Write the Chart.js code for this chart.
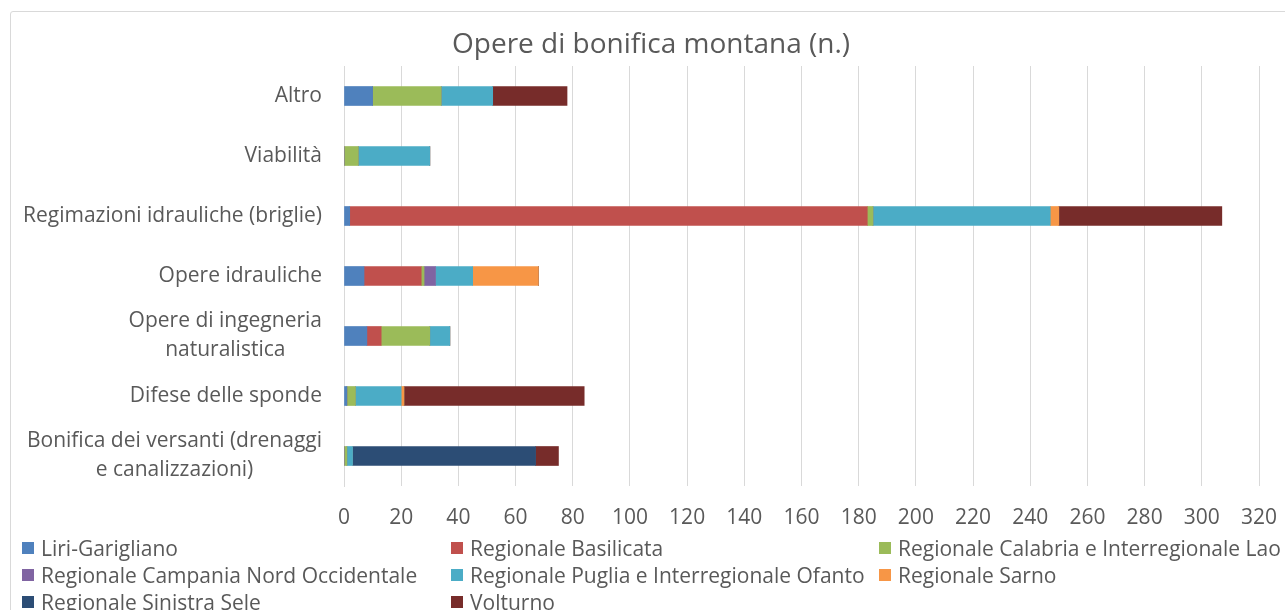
<!DOCTYPE html>
<html>
<head>
<meta charset="utf-8">
<script src="https://cdn.jsdelivr.net/npm/chart.js@4/dist/chart.umd.min.js"></script>
<style>
  html, body { margin: 0; padding: 0; background: #fff; }
  #wrap { position: relative; width: 1285px; height: 610px; overflow: hidden; }
  #frame { position: absolute; left: 10px; top: 11px; width: 1290px; height: 620px;
           border: 1px solid #d9d9d9; border-radius: 3px; box-sizing: border-box; }
  #chart { position: absolute; left: 0; top: 0; }
  #legend { position: absolute; left: 22px; top: 534px; width: 1270px;
            display: grid; grid-template-columns: 429px 428px 420px; grid-auto-rows: 27px;
            font-family: 'Open Sans', sans-serif; font-size: 21px; color: #595959; }
  #legend div { display: flex; align-items: center; white-space: nowrap; }
  #legend span.box { display: inline-block; width: 12px; height: 12px; margin-right: 7px; flex: none; }
</style>
</head>
<body>
<div id="wrap">
  <div id="frame"></div>
  <canvas id="chart" width="1285" height="610"></canvas>
  <div id="legend"></div>
</div>
<script>
// Categorie (dall'alto verso il basso)
const categories = [
    'Altro',
    'Viabilità',
    'Regimazioni idrauliche (briglie)',
    'Opere idrauliche',
    ['Opere di ingegneria', 'naturalistica'],
    'Difese delle sponde',
    ['Bonifica dei versanti (drenaggi', 'e canalizzazioni)']
];

// Serie (una per autorità di bacino)
const seriesNames = [
    'Liri-Garigliano',
    'Regionale Basilicata',
    'Regionale Calabria e Interregionale Lao',
    'Regionale Campania Nord Occidentale',
    'Regionale Puglia e Interregionale Ofanto',
    'Regionale Sarno',
    'Regionale Sinistra Sele',
    'Volturno'
];
const liriGarigliano   = [10, 0, 2, 7, 8, 1, 0];
const basilicata       = [0, 0, 181, 20, 5, 0, 0];
const calabriaLao      = [24, 5, 2, 1, 17, 3, 1];
const campaniaNordOcc  = [0, 0, 0, 4, 0, 0, 0];
const pugliaOfanto     = [18, 25, 62, 13, 7, 16, 2];
const sarno            = [0, 0, 3, 23, 0, 1, 0];
const sinistraSele     = [0, 0, 0, 0, 0, 0, 64];
const volturno         = [26, 0, 57, 0, 0, 63, 8];

// Tick asse x
const xMin = 0, xMax = 320, xStep = 20;

const chartTitle = 'Opere di bonifica montana (n.)';

const seriesValues = [liriGarigliano, basilicata, calabriaLao, campaniaNordOcc,
                      pugliaOfanto, sarno, sinistraSele, volturno];
const colors = ['#4f81bd', '#c0504d', '#9bbb59', '#8064a2', '#4bacc6', '#f79646', '#2c4d75', '#772c2a'];

const FONT = "'Open Sans', sans-serif";
const TEXT = '#595959';

// Titolo ed etichette asse y disegnati a mano
// (righe centrate tra loro, blocco allineato a destra)
const textPlugin = {
    id: 'texts',
    afterDraw(chart) {
        const ctx = chart.ctx;
        const scale = chart.scales.y;
        ctx.save();
        ctx.fillStyle = TEXT;
        ctx.textBaseline = 'middle';
        ctx.textAlign = 'center';

        ctx.font = '28px ' + FONT;
        ctx.fillText(chartTitle, 651, 45);

        const right = 322;
        const lineH = 29;
        ctx.font = '21px ' + FONT;
        categories.forEach((lab, i) => {
            const lines = Array.isArray(lab) ? lab : [lab];
            const w = Math.max(...lines.map(l => ctx.measureText(l).width));
            const cx = right - w / 2;
            const y0 = scale.getPixelForValue(i) - (lines.length - 1) * lineH / 2;
            lines.forEach((l, k) => ctx.fillText(l, cx, y0 + k * lineH));
        });
        ctx.restore();
    }
};

const ctx = document.getElementById('chart').getContext('2d');
const chart = new Chart(ctx, {
    type: 'bar',
    data: {
        labels: categories,
        datasets: seriesNames.map((name, i) => ({
            label: name,
            data: seriesValues[i],
            backgroundColor: colors[i],
            borderWidth: 0,
            barThickness: 19
        }))
    },
    options: {
        indexAxis: 'y',
        responsive: false,
        animation: false,
        layout: { padding: { left: 10, right: 26, top: 66, bottom: 84 } },
        plugins: {
            legend: { display: false },
            tooltip: { enabled: false },
            title: { display: false }
        },
        scales: {
            x: {
                stacked: true,
                min: xMin,
                max: xMax,
                afterFit(s) { s.height = 40; s.paddingLeft = 0; s.paddingRight = 0; },
                ticks: {
                    stepSize: xStep,
                    color: TEXT,
                    font: { family: FONT, size: 21 },
                    padding: 19,
                    maxRotation: 0
                },
                grid: { color: '#d9d9d9', lineWidth: 1, drawTicks: false },
                border: { display: false }
            },
            y: {
                stacked: true,
                afterFit(s) { s.width = 334; s.paddingTop = 0; s.paddingBottom = 0; },
                ticks: { display: false },
                grid: { display: false, drawTicks: false },
                border: { display: true, color: '#d9d9d9' }
            }
        }
    },
    plugins: [textPlugin]
});

// Legenda HTML a tre colonne
const legend = document.getElementById('legend');
seriesNames.forEach((name, i) => {
    const d = document.createElement('div');
    const b = document.createElement('span');
    b.className = 'box';
    b.style.background = colors[i];
    d.appendChild(b);
    d.appendChild(document.createTextNode(name));
    legend.appendChild(d);
});
</script>
</body>
</html>
